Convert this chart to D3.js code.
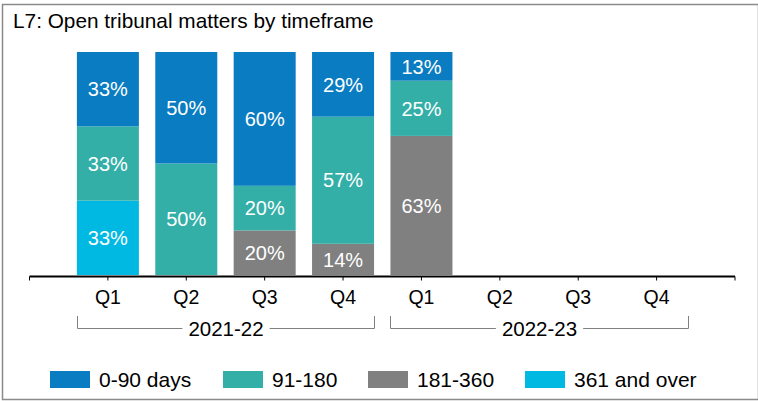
<!DOCTYPE html>
<html>
<head>
<meta charset="utf-8">
<script src="https://cdn.jsdelivr.net/npm/d3@7"></script>
<style>
  html, body { margin: 0; padding: 0; background: #fff; }
  svg { display: block; font-family: "Liberation Sans", Arial, sans-serif; }
</style>
</head>
<body>
<svg id="chart" width="758" height="401"></svg>
<script>
// Quarter categories and their financial years
const quarters = ["Q1", "Q2", "Q3", "Q4", "Q1", "Q2", "Q3", "Q4"];
const years = ["2021-22", "2022-23"];

// Share of open matters (%) by age band, per quarter (null = no data yet)
const band0to90   = [33, 50, 60, 29, 13, null, null, null];
const band91to180 = [33, 50, 20, 57, 25, null, null, null];
const band181to360 = [0, 0, 20, 14, 63, null, null, null];
const band361plus = [33, 0, 0, 0, 0, null, null, null];

const seriesNames = ["361 and over", "181-360", "91-180", "0-90 days"];
const legendOrder = ["0-90 days", "91-180", "181-360", "361 and over"];
const colors = {
  "0-90 days": "#0A7CC1",
  "91-180": "#33AFA8",
  "181-360": "#808080",
  "361 and over": "#00B9E3"
};

const svg = d3.select("#chart");

// outer frame
svg.append("rect")
  .attr("x", 2.5).attr("y", 4.5).attr("width", 756).attr("height", 395)
  .attr("fill", "none").attr("stroke", "#8a8a8a").attr("stroke-width", 1.5);

svg.append("text")
  .attr("x", 13).attr("y", 28)
  .attr("font-size", 20.8).attr("fill", "#000")
  .text("L7: Open tribunal matters by timeframe");

const idx = d3.range(quarters.length);
const x = d3.scalePoint().domain(idx).range([29.5, 735]).padding(1);
const barW = 62;
const y = d3.scaleLinear().domain([0, 1]).range([275, 52]);

const rows = idx.map(i => ({
  i,
  "0-90 days": band0to90[i],
  "91-180": band91to180[i],
  "181-360": band181to360[i],
  "361 and over": band361plus[i]
})).filter(r => r["0-90 days"] !== null);

const stack = d3.stack().keys(seriesNames).offset(d3.stackOffsetExpand);
const layers = stack(rows);

const g = svg.append("g");
layers.forEach(layer => {
  const key = layer.key;
  layer.forEach(seg => {
    const v = seg.data[key];
    if (!v) return;
    const cx = x(seg.data.i);
    g.append("rect")
      .attr("x", cx - barW / 2).attr("width", barW)
      .attr("y", y(seg[1])).attr("height", y(seg[0]) - y(seg[1]))
      .attr("fill", colors[key]);
    g.append("text")
      .attr("x", cx).attr("y", (y(seg[0]) + y(seg[1])) / 2)
      .attr("dy", "0.36em").attr("text-anchor", "middle")
      .attr("font-size", 20).attr("fill", "#fff")
      .text(v + "%");
  });
});

// category axis
const axisY = 276.5;
const axis = svg.append("g");
axis.append("line")
  .attr("x1", 29.5).attr("x2", 735).attr("y1", axisY).attr("y2", axisY)
  .attr("stroke", "#000").attr("stroke-width", 2);
[29.5, 735].concat(idx.map(i => x(i))).forEach(px => {
  axis.append("line")
    .attr("x1", px).attr("x2", px).attr("y1", axisY).attr("y2", axisY + 4)
    .attr("stroke", "#000").attr("stroke-width", 1);
});
axis.selectAll("text.q").data(idx).join("text")
  .attr("class", "q")
  .attr("x", i => x(i)).attr("y", 304)
  .attr("text-anchor", "middle").attr("font-size", 19.5).attr("fill", "#000")
  .text(i => quarters[i]);

// year brackets
const bracketY = 328.5, bracketTop = 316;
years.forEach((yr, k) => {
  const x0 = Math.round(x(k * 4) - barW / 2) + 0.5;
  const x1 = Math.round(x(k * 4 + 3) + barW / 2) + 0.5;
  const mid = (x0 + x1) / 2;
  const label = svg.append("text")
    .attr("x", mid).attr("y", bracketY).attr("dy", "0.36em")
    .attr("text-anchor", "middle").attr("font-size", 20.5).attr("fill", "#000")
    .text(yr);
  const w = label.node().getComputedTextLength();
  const gap = 6;
  svg.append("path")
    .attr("d", `M${x0},${bracketTop}V${bracketY}H${mid - w / 2 - gap}M${mid + w / 2 + gap},${bracketY}H${x1}V${bracketTop}`)
    .attr("fill", "none").attr("stroke", "#808080").attr("stroke-width", 1);
});

// legend
const legendX = [50, 223, 368, 525];
const legend = svg.append("g");
legendOrder.forEach((name, k) => {
  legend.append("rect")
    .attr("x", legendX[k]).attr("y", 371).attr("width", 40).attr("height", 17)
    .attr("fill", colors[name]);
  legend.append("text")
    .attr("x", legendX[k] + 49).attr("y", 379.5).attr("dy", "0.36em")
    .attr("font-size", 21).attr("fill", "#000")
    .text(name);
});
</script>
</body>
</html>
